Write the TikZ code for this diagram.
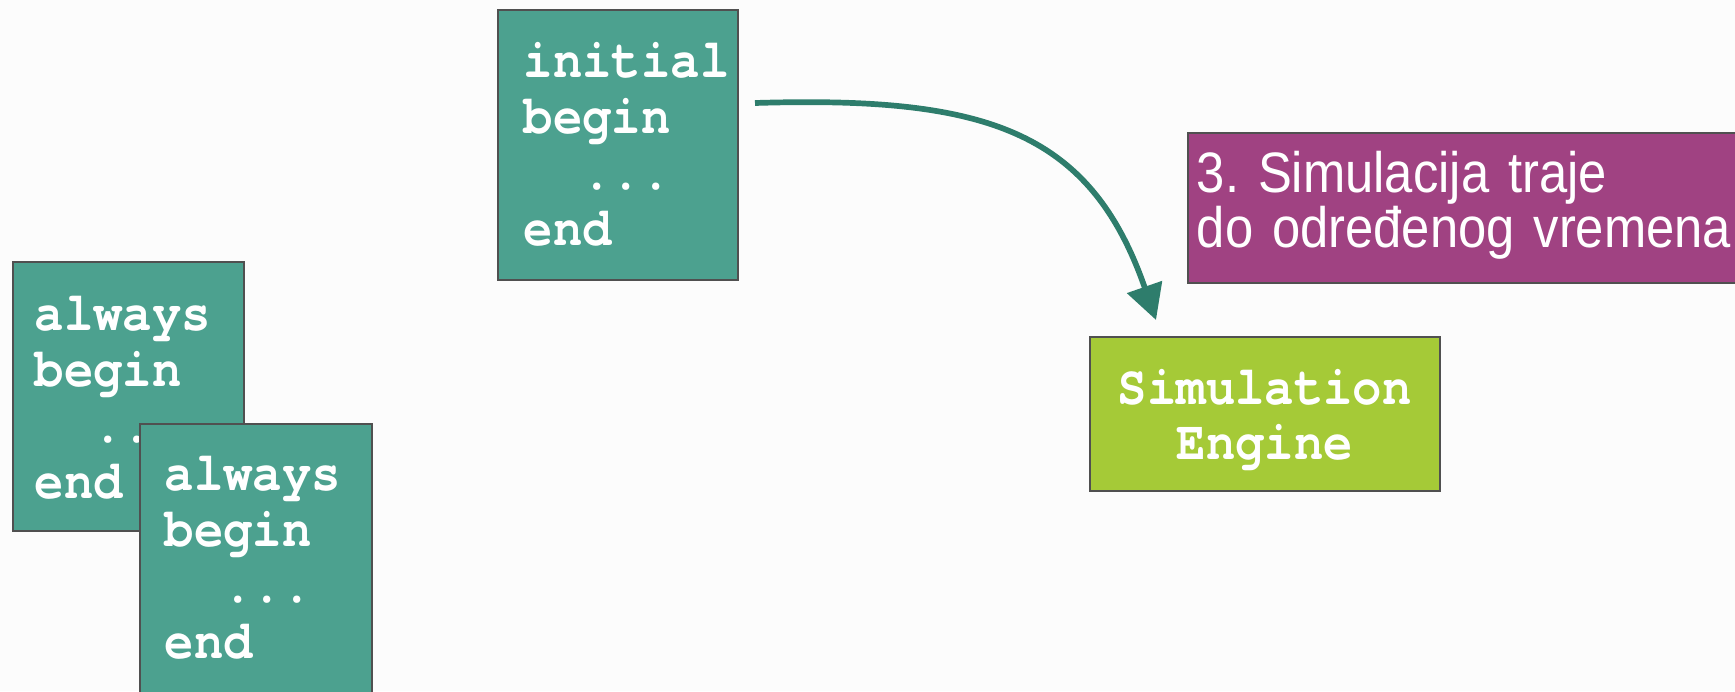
\documentclass[tikz,border=0pt]{standalone}
\usepackage{fontspec}
\usetikzlibrary{arrows.meta}
\newfontfamily\codefont[FakeStretch=0.89]{TeX Gyre Cursor}
\newfontfamily\labelfont[FakeStretch=0.89]{Liberation Sans}
\definecolor{bgc}{HTML}{FCFCFC}
\definecolor{tealbox}{HTML}{4CA18F}
\definecolor{arrowc}{HTML}{2E7D6C}
\definecolor{purplebox}{HTML}{A04282}
\definecolor{greenbox}{HTML}{A5CA37}
\definecolor{edgec}{HTML}{505050}
\begin{document}
\begin{tikzpicture}[x=0.5pt,y=-0.5pt,
  box/.style={draw=edgec, line width=0.8pt, text=white, anchor=north west, inner ysep=0pt},
  codebox/.style={box, fill=tealbox, align=left,
    font=\codefont\bfseries\fontsize{27.5pt}{28pt}\selectfont},
  enginebox/.style={box, fill=greenbox, align=center,
    font=\codefont\bfseries\fontsize{27.5pt}{27.5pt}\selectfont},
  notebox/.style={box, fill=purplebox, align=left,
    font=\labelfont\frenchspacing\fontsize{28.5pt}{26pt}\selectfont},
  flow/.style={draw=arrowc, line width=2.85pt, -{Triangle[length=17.5pt,width=18pt]}}]
\fill[bgc] (0,0) rectangle (1735,691);
\useasboundingbox (0,0) rectangle (1735,691);

\node[codebox, inner xsep=11pt, text width=93.5pt, text height=34.5pt, text depth=100pt]
  (alwaysA) at (12,261) {always\\begin\\\phantom{aa}...\\end};
\node[codebox, inner xsep=12.5pt, text width=91pt, text height=33.5pt, text depth=101pt]
  (alwaysB) at (139,423) {always\\begin\\\phantom{aa}...\\end};
\node[codebox, inner xsep=13pt, text width=94pt, text height=34pt, text depth=101pt]
  (init) at (497,9) {initial\\begin\\\phantom{aa}...\\end};
\node[notebox, inner xsep=4.5pt, text width=270pt, text height=30pt, text depth=45pt]
  (note) at (1187,132) {3. Simulacija traje\\do određenog vremena};
\node[enginebox, inner xsep=5pt, text width=165pt, text height=34pt, text depth=43pt]
  (engine) at (1089,336) {Simulation\\Engine};

\coordinate (arrowstart) at (755,103);
\coordinate (arrowend) at (1156,320);
\draw[flow] (arrowstart) .. controls (985,96) and (1090,130) .. (arrowend);
\end{tikzpicture}
\end{document}
